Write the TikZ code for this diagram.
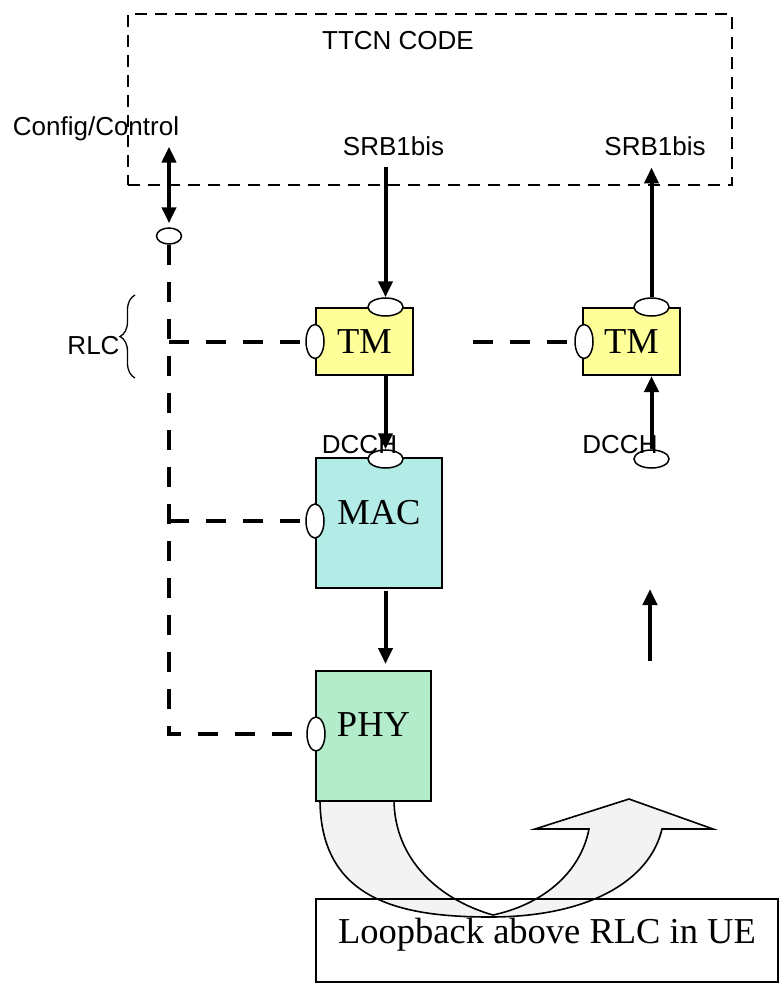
\documentclass[tikz,border=0pt]{standalone}
\usepackage{fontspec}
\setmainfont{Liberation Serif}
\setsansfont{Liberation Sans}
\usepackage{xcolor}
\usetikzlibrary{shapes.geometric, arrows.meta, positioning, calc, decorations.pathreplacing}
\definecolor{tmyellow}{RGB}{255, 255, 153}
\definecolor{macteal}{RGB}{179, 236, 230}
\definecolor{phygreen}{RGB}{179, 236, 203}
\definecolor{loopgray}{RGB}{243, 243, 243}

\begin{document}
\begin{tikzpicture}[
    x=1pt, y=-1pt,
    lbl/.style={font=\sffamily\fontsize{26}{30}\selectfont, inner sep=0pt, anchor=base},
    layerbox/.style={draw=black, line width=2pt, inner sep=0pt, font=\rmfamily\fontsize{36.5}{40}\selectfont},
    tmbox/.style={layerbox, fill=tmyellow, minimum width=97pt, minimum height=67pt},
    macbox/.style={layerbox, fill=macteal, minimum width=126pt, minimum height=130pt, text depth=22pt},
    phybox/.style={layerbox, fill=phygreen, minimum width=115pt, minimum height=130pt, text depth=22pt},
    vport/.style={ellipse, draw, fill=white, line width=1.5pt, inner sep=0pt, minimum width=18pt, minimum height=34pt},
    hport/.style={ellipse, draw, fill=white, line width=1.5pt, inner sep=0pt, minimum width=35pt, minimum height=18pt},
    arr/.style={-{Triangle[length=16pt, width=14pt]}, line width=4pt},
    dblarr/.style={{Triangle[length=16pt, width=14pt]}-{Triangle[length=16pt, width=14pt]}, line width=4pt},
    ctrl/.style={dash pattern=on 20pt off 17pt, line width=4pt}
]
\useasboundingbox (0,0) rectangle (779,983);

% TTCN test code area
\node[draw, dash pattern=on 12pt off 8pt, line width=2.5pt, minimum width=604pt, minimum height=171pt, inner sep=0pt] (ttcn) at (430,99.5) {};
\node[lbl] (ttcnlbl) at (398,49) {TTCN CODE};

% Loopback shape (drawn first, PHY and text box go over it)
\draw[line width=1.6pt, fill=loopgray] (320,799) .. controls (320,900) and (400,917) .. (490,917)
    .. controls (590,917) and (650,880) .. (662,829) -- (713,829) -- (629,799) -- (535,829) -- (589,829)
    .. controls (580,875) and (540,905) .. (493,915)
    .. controls (440,900) and (394,860) .. (394,799) -- cycle;

% Layer blocks
\node[tmbox] (tmleft) at (364.5,341.5) {TM};
\node[tmbox, right=168pt of tmleft] (tmright) {TM};
\node[macbox, below=81pt of tmleft.south west, anchor=north west] (mac) {MAC};
\node[phybox, below=81pt of mac.south west, anchor=north west] (phy) {PHY};

% Ports
\node[vport] (tmleftport) at (tmleft.west) {};
\node[hport] (tmlefttop) at ([xshift=21pt]tmleft.north) {};
\node[vport] (tmrightport) at ([xshift=2pt]tmright.west) {};
\node[hport] (tmrighttop) at ([xshift=20pt]tmright.north) {};
\node[hport] (mactop) at ([xshift=6.5pt, yshift=-2pt]mac.north) {};
\node[vport] (macport) at ([yshift=2pt]mac.west) {};
\node[vport] (phyport) at ([xshift=1pt, yshift=2pt]phy.west) {};
\node[hport] (dcchport) at (tmrighttop |- mactop) {};
\node[ellipse, draw, fill=white, line width=1.5pt, inner sep=0pt, minimum width=25pt, minimum height=16pt] (cfgport) at (169,236) {};

% Labels
\node[lbl] (cfglbl) at (96,135) {Config/Control};
\node[lbl] (srbleft) at (393.5,155) {SRB1bis};
\node[lbl] (srbright) at (655,155) {SRB1bis};
\node[lbl] (dcchleft) at (359.5,453) {DCCH};
\node[lbl] (dcchright) at (620,453) {DCCH};
\node[lbl] (rlclbl) at (93.5,354) {RLC};
\draw[decorate, decoration={brace, amplitude=15pt}, line width=1.3pt] (135,378) -- (135,295);

% Data path
\draw[dblarr, shorten <=6pt, shorten >=4pt] (cfglbl.south -| cfgport) -- (cfgport.north);
\draw[arr, shorten <=12pt] (srbleft.south -| tmlefttop) -- (tmlefttop.north);
\draw[arr, shorten >=12pt] (tmrighttop.north) -- (srbright.south -| tmrighttop);
\draw[arr] (tmleft.south -| tmlefttop) -- (mactop.north);
\draw[arr, shorten <=2pt, shorten >=6pt] (mac.south -| mactop) -- (phy.north -| mactop);
\draw[arr] (dcchport.north) -- (tmright.south -| tmrighttop);
\coordinate (loopin) at (650,661);
\coordinate (loopout) at (650,589);
\draw[arr] (loopin) -- (loopout);

% Config/Control lines
\draw[ctrl] (cfgport.south) |- (phyport.west);
\draw[ctrl] (cfgport.south |- tmleftport) -- (tmleftport.west);
\draw[ctrl] (cfgport.south |- macport) -- (macport.west);
\draw[ctrl] ([xshift=59pt]tmleft.east) -- (tmrightport.west);

% Loopback text box
\node[draw, line width=1.2pt, minimum width=462pt, minimum height=83pt, inner sep=0pt, text depth=20pt, font=\rmfamily\fontsize{36.5}{40}\selectfont] (loopback) at (547,940.5) {Loopback above RLC in UE};

\end{tikzpicture}
\end{document}
